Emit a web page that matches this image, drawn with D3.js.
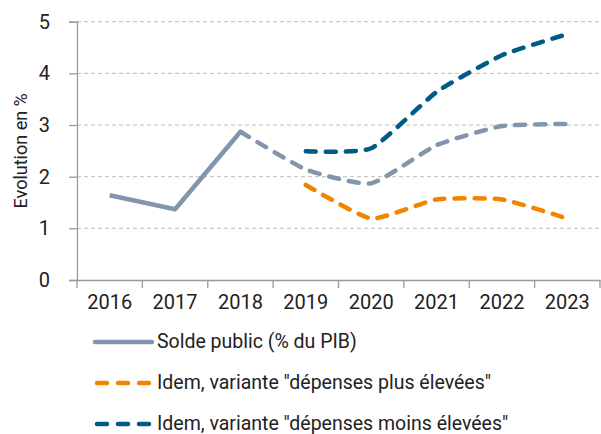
<!DOCTYPE html>
<html>
<head>
<meta charset="utf-8">
<script src="https://cdn.jsdelivr.net/npm/d3@7"></script>
<style>
  body { margin: 0; background: #fff; }
  text { font-family: Roboto, "DejaVu Sans", sans-serif; fill: #222; }
</style>
</head>
<body>
<div id="chart"></div>
<script>
/** data **/
var years = ["2016", "2017", "2018", "2019", "2020", "2021", "2022", "2023"];
var yTicks = [0, 1, 2, 3, 4, 5];

// solde public : solid up to 2018, dashed afterwards
var soldeHist = [1.64, 1.37, 2.87, null, null, null, null, null];
var soldeProj = [null, null, 2.87, 2.14, 1.87, 2.61, 2.98, 3.02];
var plusEleve = [null, null, null, 1.84, 1.19, 1.56, 1.56, 1.19];
var moinsEleve = [null, null, null, 2.49, 2.55, 3.64, 4.35, 4.76];

var legendLabels = [
    "Solde public (% du PIB)",
    "Idem, variante \"dépenses plus élevées\"",
    "Idem, variante \"dépenses moins élevées\""
];

/** layout **/
var width = 601,
    height = 434,
    plotLeft = 77,
    plotRight = 600,
    plotTop = 21.7,
    plotBottom = 280;

var grey = "#8395AD",
    orange = "#F28500",
    blue = "#005B85";

var svg = d3.select("#chart").append("svg")
    .attr("width", width)
    .attr("height", height);

var x = d3.scaleBand().domain(years).range([plotLeft, plotRight]);
var y = d3.scaleLinear().domain([0, 5]).range([plotBottom, plotTop]);

// gridlines
svg.selectAll(".grid")
    .data(yTicks.filter(function(d) { return d > 0; }))
    .enter().append("line")
    .attr("class", "grid")
    .attr("x1", plotLeft)
    .attr("x2", plotRight)
    .attr("y1", function(d) { return y(d); })
    .attr("y2", function(d) { return y(d); })
    .style("stroke", "#bdbdbd")
    .style("stroke-width", 1)
    .style("stroke-dasharray", "4,3");

// y axis
var yAxis = svg.append("g")
    .attr("transform", "translate(" + plotLeft + ",0)")
    .call(d3.axisLeft(y).tickValues(yTicks).tickSize(8).tickPadding(19).tickFormat(d3.format("d")));
yAxis.select(".domain").style("stroke", "#999").style("stroke-width", 1.3);
yAxis.selectAll(".tick line").style("stroke", "#999").style("stroke-width", 1.3);
yAxis.selectAll("text").style("font-size", "20px").attr("fill", "#222");

// x axis
var xAxis = svg.append("g")
    .attr("transform", "translate(0," + plotBottom + ")")
    .call(d3.axisBottom(x).tickSize(0).tickPadding(15));
xAxis.select(".domain").style("stroke", "#999").style("stroke-width", 1.3);
xAxis.selectAll("text").style("font-size", "20px").attr("fill", "#222");

// category separators
svg.selectAll(".xtick")
    .data(years.concat(["end"]))
    .enter().append("line")
    .attr("class", "xtick")
    .attr("x1", function(d, i) { return plotLeft + i * x.step(); })
    .attr("x2", function(d, i) { return plotLeft + i * x.step(); })
    .attr("y1", plotBottom)
    .attr("y2", plotBottom + 8)
    .style("stroke", "#999")
    .style("stroke-width", 1.3);

// y title
svg.append("text")
    .attr("transform", "translate(27," + ((plotTop + plotBottom) / 2) + ") rotate(-90)")
    .attr("text-anchor", "middle")
    .style("font-size", "18px")
    .text("Evolution en %");

/** series **/
function drawLine(values, color, dashed, curve) {
    var pts = [];
    for (var i = 0; i < years.length; i++) {
        if (values[i] !== null) pts.push({ year: years[i], v: values[i] });
    }
    var line = d3.line()
        .x(function(d) { return x(d.year) + x.bandwidth() / 2; })
        .y(function(d) { return y(d.v); })
        .curve(curve);
    svg.append("path")
        .datum(pts)
        .attr("d", line)
        .style("fill", "none")
        .style("stroke", color)
        .style("stroke-width", 4.5)
        .style("stroke-linecap", dashed ? "round" : "butt")
        .style("stroke-linejoin", "round")
        .style("stroke-dasharray", dashed ? "10,10" : null);
}

var smooth = d3.curveCardinal.tension(0.5);
drawLine(soldeHist, grey, false, d3.curveLinear);
drawLine(soldeProj, grey, true, smooth);
drawLine(plusEleve, orange, true, smooth);
drawLine(moinsEleve, blue, true, smooth);

/** legend **/
var legendColors = [grey, orange, blue];
var legend = svg.selectAll(".legend")
    .data(legendLabels)
    .enter().append("g")
    .attr("class", "legend")
    .attr("transform", function(d, i) { return "translate(95," + (342 + i * 41) + ")"; });

legend.append("line")
    .attr("x1", function(d, i) { return i === 0 ? 0 : 2; })
    .attr("x2", function(d, i) { return i === 0 ? 57 : 56; })
    .attr("y1", 0)
    .attr("y2", 0)
    .style("stroke", function(d, i) { return legendColors[i]; })
    .style("stroke-width", 4.5)
    .style("stroke-linecap", "round")
    .style("stroke-dasharray", function(d, i) { return i === 0 ? null : "10,11"; });

legend.append("text")
    .attr("x", 62)
    .attr("y", 6)
    .style("font-size", "19.5px")
    .text(function(d) { return d; });
</script>
</body>
</html>
